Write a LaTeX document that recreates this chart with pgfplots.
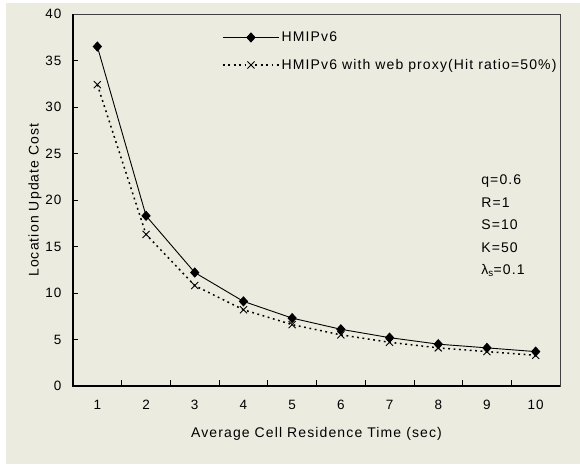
\documentclass[border=0pt]{standalone}
\usepackage{pgfplots}
\pgfplotsset{compat=1.18}
\usepackage{fontspec}
\setmainfont{Liberation Sans}[LetterSpace=8]
\definecolor{bg}{RGB}{235,235,224}
\begin{document}
\begin{tikzpicture}[x=1pt,y=1pt]
\path[use as bounding box] (-73,-78) rectangle (507,386);
\fill[white] (-73,-78) rectangle (507,386);
\fill[bg] (-67,-78) rectangle (507,383);
\begin{axis}[
  at={(0,0)}, anchor=south west,
  scale only axis, width=487pt, height=372pt,
  xmin=0.5, xmax=10.5, ymin=0, ymax=40,
  xtick={1,...,10}, minor xtick={1.5,2.5,...,9.5},
  ytick={0,5,...,40},
  /pgf/number format/assume math mode=true,
  major x tick style={draw=none},
  tick align=inside, xtick pos=bottom, ytick pos=left,
  minor tick length=6pt, major tick length=5pt,
  tick style={black, line width=0.8pt},
  axis line style={line width=0.8pt, color=black!75},
  font=\fontsize{13.5}{15}\selectfont,
  xticklabel style={yshift=-11pt},
  yticklabel style={xshift=-8pt},
  xlabel={Average Cell Residence Time (sec)},
  ylabel={Location Update Cost},
  label style={font=\fontsize{14}{16}\selectfont},
  xlabel style={yshift=-10pt},
  ylabel style={yshift=-3pt},
  legend cell align=left,
  legend style={draw=none, fill=none, at={(rel axis cs:0.306,0.958)}, anchor=north west, inner sep=0pt, row sep=12pt, font=\fontsize{14}{16}\selectfont},
  legend image code/.code={\draw[mark repeat=2,mark phase=2,#1] plot coordinates {(0pt,0pt) (28pt,0pt) (56pt,0pt)};},
  clip=false,
]
\addplot[black, line width=0.9pt, mark=diamond*, mark size=4.5pt, mark options={xscale=1.2}] coordinates {
(1,36.5) (2,18.3) (3,12.2) (4,9.1) (5,7.3) (6,6.1) (7,5.2) (8,4.5) (9,4.1) (10,3.7)};
\addlegendentry{HMIPv6}
\addplot[black, line width=1.5pt, dash pattern=on 1.8pt off 3.6pt, mark=x, mark size=5pt, mark options={solid, line width=0.9pt}] coordinates {
(1,32.4) (2,16.3) (3,10.8) (4,8.2) (5,6.6) (6,5.5) (7,4.7) (8,4.1) (9,3.7) (10,3.3)};
\addlegendentry{HMIPv6 with web proxy(Hit ratio=50\%)}
\draw[black, line width=2pt] (rel axis cs:0,1) -- (rel axis cs:0,0) -- (rel axis cs:1,0);
\node[anchor=north west, align=left, inner sep=0pt, font=\fontsize{14}{22.5}\selectfont] at (rel axis cs:0.838,0.568) {q=0.6\\R=1\\S=10\\K=50\\λ\textsubscript{s}=0.1};
\end{axis}
\end{tikzpicture}
\end{document}
